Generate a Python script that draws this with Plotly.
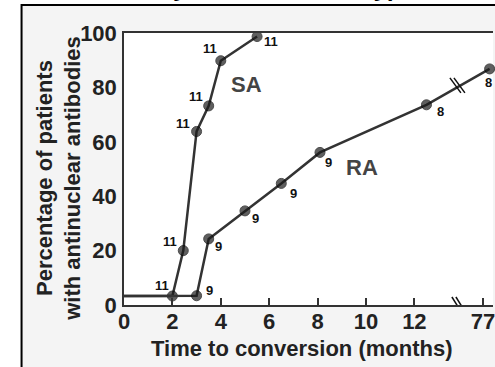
import numpy as np
import plotly.graph_objects as go

# ---------------- data ----------------
sa_months = [0, 2, 2.45, 3, 3.5, 4, 5.5]
sa_pct = [3.3, 3.3, 20, 63.8, 73.2, 89.8, 98.7]
sa_n = ["", "11", "11", "11", "11", "11", "11"]

ra_months = [0, 3, 3.5, 5, 6.5, 8.1, 12.5, 78]
ra_pct = [3.3, 3.4, 24.3, 34.6, 44.7, 56.1, 73.6, 86.8]
ra_n = ["", "9", "9", "9", "9", "9", "8", "8"]

x_ticks = [0, 2, 4, 6, 8, 10, 12, 77]
y_ticks = [0, 20, 40, 60, 80, 100]

# label offsets (pixels: dx right, dy up)
sa_off = [(0, 0), (-10, 11), (-13, 9), (-14, 8), (-13, 9), (-11, 12), (14, -5)]
ra_off = [(0, 0), (13, 5), (10, -8), (11, -8), (12, -10), (9, -10), (14, -7), (-1, -14)]

# ---------------- broken axis mapping ----------------
BREAK_AT = 13.0      # last month before the break
POS_77 = 14.84       # axis position of the 77-month tick
K_AFTER = 0.27       # compression after the break
BREAK_POS = 13.8     # where the break marks are drawn


def axis_pos(m):
    return m if m <= BREAK_AT else POS_77 + (m - 77) * K_AFTER


sa_x = [axis_pos(m) for m in sa_months]
ra_x = [axis_pos(m) for m in ra_months]

LINE_C = "#333333"
TXT_C = "#222222"
FONT = "Liberation Sans"

fig = go.Figure()

for xs, ys in ((sa_x, sa_pct), (ra_x, ra_pct)):
    sizes = [0] + [10] * (len(xs) - 1)
    fig.add_trace(go.Scatter(
        x=xs, y=ys, mode="lines+markers",
        line=dict(color=LINE_C, width=2.5),
        marker=dict(size=sizes, color="#1c1c1c", line=dict(color="#000000", width=1)),
        hoverinfo="skip", showlegend=False, cliponaxis=False,
    ))

annotations = []
for xs, ys, ns, offs in ((sa_x, sa_pct, sa_n, sa_off), (ra_x, ra_pct, ra_n, ra_off)):
    for x, y, n, (dx, dy) in zip(xs, ys, ns, offs):
        if not n:
            continue
        annotations.append(dict(
            x=x, y=y, xref="x", yref="y", text=n, showarrow=False,
            xshift=dx, yshift=dy,
            font=dict(family=FONT, size=13, color="#111111", weight="bold"),
        ))

# series names
annotations.append(dict(x=5.06, y=81, xref="x", yref="y", text="SA", showarrow=False,
                        font=dict(family=FONT, size=22, color="#444444", weight="bold")))
annotations.append(dict(x=9.82, y=50.4, xref="x", yref="y", text="RA", showarrow=False,
                        font=dict(family=FONT, size=22, color="#444444", weight="bold")))

# axis titles
annotations.append(dict(x=0.4825, y=-0.16, xref="paper", yref="paper",
                        text="Time to conversion (months)", showarrow=False,
                        xanchor="center", yanchor="middle",
                        font=dict(family=FONT, size=22, color=TXT_C, weight="bold")))
annotations.append(dict(x=-0.178, y=0.465, xref="paper", yref="paper",
                        text="Percentage of patients<br>with antinuclear antibodies",
                        showarrow=False, textangle=-90, xanchor="center", yanchor="middle",
                        font=dict(family=FONT, size=22, color=TXT_C, weight="bold")))

# cut-off title (only descenders visible at the top edge)
annotations.append(dict(x=(192 - 124) / 371, y=(305 - 3) / 272, xref="paper", yref="paper",
                        text="Antinuclear antibody", showarrow=False,
                        xanchor="right", yanchor="bottom",
                        font=dict(family=FONT, size=24, color="#000000", weight="bold", style="italic")))
annotations.append(dict(x=(360 - 124) / 371, y=(305 - 3) / 272, xref="paper", yref="paper",
                        text="hypertension", showarrow=False,
                        xanchor="left", yanchor="bottom",
                        font=dict(family=FONT, size=24, color="#000000", weight="bold", style="italic")))

shapes = []
# outer gray panel with black frame
shapes.append(dict(type="rect", xref="paper", yref="paper",
                   x0=(21 - 124) / 371, x1=1.2, y0=(305 - 380) / 272, y1=(305 - 5) / 272,
                   fillcolor="#f4f4f4", line=dict(color="#000000", width=2), layer="below"))
# white plot area
shapes.append(dict(type="rect", xref="paper", yref="paper", x0=0, x1=1, y0=0, y1=1,
                   fillcolor="#ffffff", line=dict(width=0), layer="below"))

# axis break marks
for off in (0, 4):
    shapes.append(dict(type="line", xref="x", yref="y",
                       xsizemode="pixel", ysizemode="pixel",
                       xanchor=BREAK_POS, yanchor=0,
                       x0=-6 + off, x1=4 + off, y0=8, y1=-8,
                       line=dict(color="#111111", width=1.5)))
# break marks on the RA line
ra_break_y = float(np.interp(BREAK_POS, ra_x, ra_pct))
for off in (-2, 2):
    shapes.append(dict(type="line", xref="x", yref="y",
                       xsizemode="pixel", ysizemode="pixel",
                       xanchor=BREAK_POS, yanchor=ra_break_y,
                       x0=-6 + off, x1=5 + off, y0=9, y1=-6,
                       line=dict(color="#111111", width=1.5)))

fig.update_layout(
    width=495, height=367,
    margin=dict(l=124, r=0, t=33, b=62),
    paper_bgcolor="#ffffff", plot_bgcolor="#ffffff",
    annotations=annotations, shapes=shapes,
    xaxis=dict(range=[0, 15.25], tickvals=[axis_pos(v) for v in x_ticks],
               ticktext=[str(v) for v in x_ticks],
               showgrid=False, zeroline=False, showline=True, mirror=True,
               linecolor=LINE_C, linewidth=1.5, ticks="inside", ticklen=7,
               tickcolor=LINE_C, tickwidth=1.5, ticklabelstandoff=-4,
               ticklabeloverflow="allow",
               tickfont=dict(family=FONT, size=22, color=TXT_C, weight="bold")),
    yaxis=dict(range=[0, 100], tickvals=y_ticks, showgrid=False, zeroline=False,
               showline=True, linecolor=LINE_C, linewidth=1.5, ticks="",
               ticklabelstandoff=1,
               tickfont=dict(family=FONT, size=22, color=TXT_C, weight="bold")),
)

fig.write_html("out.html", config={"displayModeBar": False},
               post_script="document.body.style.margin='0';document.body.style.overflow='hidden';")
